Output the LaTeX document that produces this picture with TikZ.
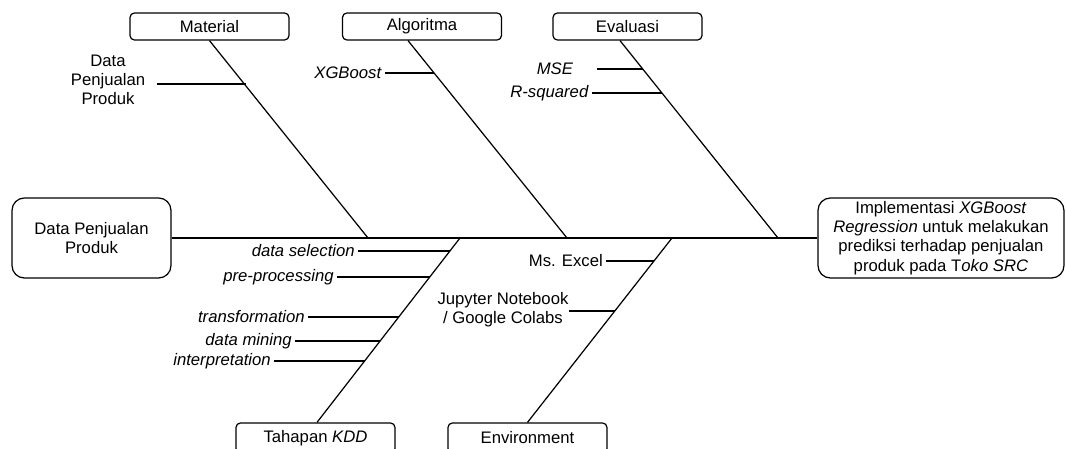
\documentclass[tikz,border=0pt]{standalone}
\usepackage{fontspec}
\setmainfont{Liberation Sans}
\usetikzlibrary{positioning}

\begin{document}
\begin{tikzpicture}[x=0.02cm, y=-0.02cm, line width=0.7pt,
  every node/.style={font=\fontsize{9.5}{10.9}\selectfont},
  cause/.style={draw, rounded corners=2.5pt, minimum width=3.18cm, minimum height=0.54cm, inner sep=0pt},
  endbox/.style={draw, rounded corners=7pt, minimum height=1.6cm, align=center, inner sep=0pt},
  lbl/.style={inner sep=1.5pt, anchor=east}]
\useasboundingbox (0,0) rectangle (1066,449);

% Head and tail
\node[endbox, minimum width=3.18cm] (data) at (91.5,238) {Data Penjualan\\Produk};
\node[endbox, minimum width=4.92cm] (goal) at (941,238) {Implementasi \textit{XGBoost}\\\textit{Regression} untuk melakukan\\prediksi terhadap penjualan\\produk pada T\textit{oko SRC}};

% Categories
\node[cause] (material) at (209.5,26.5) {Material};
\node[cause] (algoritma) at (422,26.5) {Algoritma};
\node[cause, minimum width=2.98cm] (evaluasi) at (627.5,26.5) {Evaluasi};
\node[cause, minimum height=0.6cm] (kdd) at (315.5,438) {Tahapan \textit{KDD}};
\node[cause, minimum height=0.6cm] (env) at (527.5,438) {Environment};

% Where the bones meet the spine
\coordinate (mh) at (368,238);
\coordinate (ah) at (567,238);
\coordinate (eh) at (778,238);
\coordinate (kh) at (460,238);
\coordinate (vh) at (672,238);

% Spine and bones
\draw (data) -- (goal);
\draw (material.south) -- (mh);
\draw ([xshift=-0.28cm]algoritma.south) -- (ah);
\draw ([xshift=-0.15cm]evaluasi.south) -- (eh);
\draw (kh) -- ([xshift=0.03cm]kdd.north);
\draw (vh) -- (env.north);

% Points on the bones
\coordinate (m1) at (246,84);
\coordinate (a1) at (434,73);
\coordinate (e1) at (643,69);
\coordinate (e2) at (662,93);
\coordinate (k1) at (450,251);
\coordinate (k2) at (430,277);
\coordinate (k3) at (399,317);
\coordinate (k4) at (380,341);
\coordinate (k5) at (365,361);
\coordinate (v1) at (654,261);
\coordinate (v2) at (615,311);

% Material
\node[minimum width=1.92cm, align=center] (dpp) at (108,80) {Data\\Penjualan\\Produk};
\draw (dpp.east |- m1) -- (m1);

% Algoritma
\node[lbl] (xgb) at (385,73) {\textit{XGBoost}};
\draw (xgb) -- (a1);

% Evaluasi
\node[minimum width=1.64cm] (mse) at (555,69) {\textit{MSE}};
\node[lbl] (rsq) at (592,93) {\textit{R-squared}};
\draw (mse) -- (e1);
\draw (rsq) -- (e2);

% Tahapan KDD
\node[lbl] (sel) at (358,251) {\textit{data selection}};
\node[lbl] (pre) at (337,277) {\textit{pre-processing}};
\node[lbl] (trf) at (308,317) {\textit{transformation}};
\node[lbl] (dm) at (295,341) {\textit{data mining}};
\node[lbl] (itp) at (274,361) {\textit{interpretation}};
\draw (sel) -- (k1);
\draw (pre) -- (k2);
\draw (trf) -- (k3);
\draw (dm) -- (k4);
\draw (itp) -- (k5);

% Environment
\node[lbl] (excel) at (606,261) {Ms. Excel};
\node[align=center, inner sep=0pt] (jup) at (503,310) {Jupyter Notebook\\/ Google Colabs};
\draw (excel) -- (v1);
\draw (jup.east |- v2) -- (v2);
\end{tikzpicture}
\end{document}
